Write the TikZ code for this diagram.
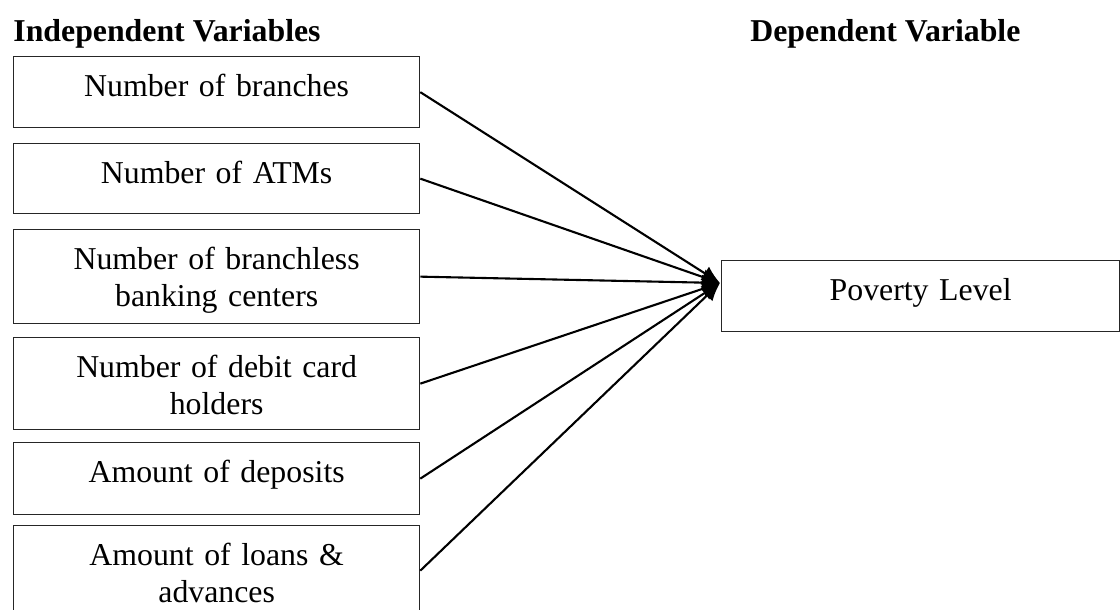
\documentclass[tikz,border=0pt]{standalone}
\usepackage{fontspec}
\setmainfont{Liberation Serif}
\usetikzlibrary{arrows.meta}

\begin{document}
\begin{tikzpicture}[x=0.5pt,y=-0.5pt,
  varbox/.style={draw=black!85, line width=0.65pt, anchor=north west,
    minimum width=#1, text width=180pt, align=center, inner sep=0pt,
    text height=20pt, font=\fontsize{15.9pt}{18.3pt}\selectfont},
  heading/.style={anchor=base west, inner sep=0pt,
    font=\fontsize{15.9pt}{18.3pt}\selectfont\bfseries},
  link/.style={line width=1.05pt, -{Latex[length=9pt,width=8pt]}}]

  \useasboundingbox (0,0) rectangle (1120,610);

  % headings
  \node[heading] (indep) at (13,42) {Independent Variables};
  \node[heading] (dep) at (750,42) {Dependent Variable};

  % independent variables
  \node[varbox=203pt, text depth=15.5pt] (branches) at (13,56) {Number of branches};
  \node[varbox=203pt, text depth=15pt] (atms) at (13,143) {Number of ATMs};
  \node[varbox=203pt, text depth=27pt] (branchless) at (13,229)
    {Number of branchless\\ banking centers};
  \node[varbox=203pt, text depth=26pt] (debit) at (13,337)
    {Number of debit card\\ holders};
  \node[varbox=203pt, text depth=16pt] (deposits) at (13,442) {Amount of deposits};
  \node[varbox=203pt, text depth=25pt] (loans) at (13,525)
    {Amount of loans \&\\ advances};

  % dependent variable
  \node[varbox=199pt, text depth=15.5pt] (poverty) at (721,260) {Poverty Level};

  \coordinate (tip) at (720,283);

  \foreach \n in {branches,atms,branchless,debit,deposits,loans}
    \draw[link] (\n.east) -- (tip);

\end{tikzpicture}
\end{document}
